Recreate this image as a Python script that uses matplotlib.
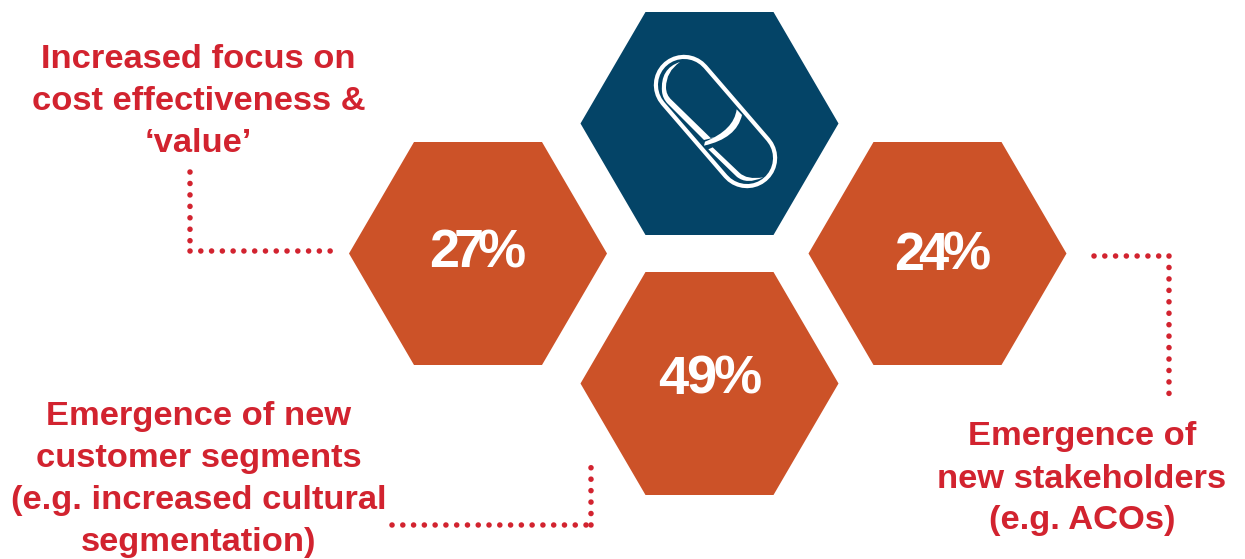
import matplotlib.pyplot as plt
from matplotlib.patches import Polygon, PathPatch
from matplotlib.path import Path
from matplotlib.lines import Line2D
from matplotlib.text import Text

# Share of respondents per driver
drivers = ["Increased focus on\ncost effectiveness &\n‘value’",
           "Emergence of new\ncustomer segments\n(e.g. increased cultural\nsegmentation)",
           "Emergence of\nnew stakeholders\n(e.g. ACOs)"]
shares = [27, 49, 24]

ORANGE = "#CC5228"
BLUE = "#044467"
RED = "#D2232F"

plt.rcParams['font.family'] = ['Liberation Sans', 'DejaVu Sans']

fig = plt.figure(figsize=(12.45, 5.59), dpi=100)
ax = fig.add_axes([0, 0, 1, 1])
# Axes run in pixels, y pointing down
ax.set_xlim(0, 1245)
ax.set_ylim(559, 0)
ax.axis('off')


class TightText(Text):
    # Text with negative letter spacing, centred on x
    track = -3

    def draw(self, renderer):
        x, y = self.get_position()
        chars = self.get_text()
        widths = [renderer.get_text_width_height_descent(c, self.get_fontproperties(), False)[0]
                  for c in chars]
        pos = x - (sum(widths) + self.track * (len(chars) - 1)) / 2
        for c, w in zip(chars, widths):
            glyph = Text(pos, y, c, color=self.get_color(), fontproperties=self.get_fontproperties(),
                         ha='left', va='baseline', transform=self.get_transform())
            glyph.set_figure(self.get_figure())
            glyph.draw(renderer)
            pos += w + self.track


def hexagon(cx, cy, colour):
    hw, hh, inset = 129, 111.5, 65
    pts = [(cx - hw, cy), (cx - hw + inset, cy - hh), (cx + hw - inset, cy - hh),
           (cx + hw, cy), (cx + hw - inset, cy + hh), (cx - hw + inset, cy + hh)]
    ax.add_patch(Polygon(pts, closed=True, fc=colour, ec='none'))


def dotted(xs, ys, gap=1.93):
    # Very short dashes with round caps give a row of dots
    ax.add_line(Line2D(xs, ys, color=RED, lw=4, linestyle=(0, (0.01, gap)),
                       dash_capstyle='round'))


hex_centres = [(478, 253.5), (709.5, 383.5), (937.5, 253.5)]
share_pos = [(477.5, 267), (710, 394), (942.5, 270)]
share_track = [-5.5, -2, -5.5]
text_pos = [(198.5, 60), (198.5, 417), (1082, 437)]
line_gap = 42

hexagon(709.5, 123.5, BLUE)
for (cx, cy), (tx, ty), track, share in zip(hex_centres, share_pos, share_track, shares):
    hexagon(cx, cy, ORANGE)
    t = TightText(tx, ty, f"{share}%", color='white', fontsize=39, fontweight='bold')
    t.track = track
    ax.add_artist(t)

for (x, y), label in zip(text_pos, drivers):
    for i, line in enumerate(label.split("\n")):
        ax.text(x, y + i * line_gap, line, color=RED, fontsize=24.8, fontweight='bold',
                ha='center', va='center')

# Connectors from hexagons to their labels
dotted([189.5, 189.5], [172, 251], gap=2.05)
dotted([189.5, 331], [251, 251])
dotted([392, 591], [525, 525])
dotted([591, 591], [525, 458], gap=2.05)
dotted([1094, 1169], [256, 256])
dotted([1169, 1169], [256, 395], gap=2.05)


def icon_xy(x, y):
    return 580 + x / 3, y / 3


# Pill icon: capsule outline drawn as a thick round-capped line
ax.plot([684, 747], [85, 158], color='white', lw=43.5, solid_capstyle='round', zorder=2)
ax.plot([684, 747], [85, 158], color=BLUE, lw=37.5, solid_capstyle='round', zorder=2.1)

M, L, Q = Path.MOVETO, Path.LINETO, Path.CURVE3
icon_patches = [
    # inner highlight of the upper half
    ([(300, 186), (240, 205), (246, 275), (248, 295), (262, 310), (372, 420), (410, 411),
      (392, 414), (275, 300), (258, 285), (258, 262), (258, 215), (300, 186)],
     [M, Q, Q, Q, Q, L, L, L, L, Q, Q, Q, Q]),
    # seam between the halves
    ([(470, 328), (462, 390), (375, 425), (372, 437), (470, 415), (486, 345), (470, 328)],
     [M, Q, Q, L, Q, Q, L]),
    # inner highlight of the lower half
    ([(385, 448), (470, 530), (500, 555), (550, 532), (500, 540), (478, 518), (398, 442), (385, 448)],
     [M, L, Q, Q, Q, Q, L, L]),
]
for pts, codes in icon_patches:
    patch_verts = [icon_xy(*p) for p in pts]
    ax.add_patch(PathPatch(Path(patch_verts, codes), fc='white', ec='none', lw=0, zorder=3))

fig.savefig("out.png", dpi=100)
